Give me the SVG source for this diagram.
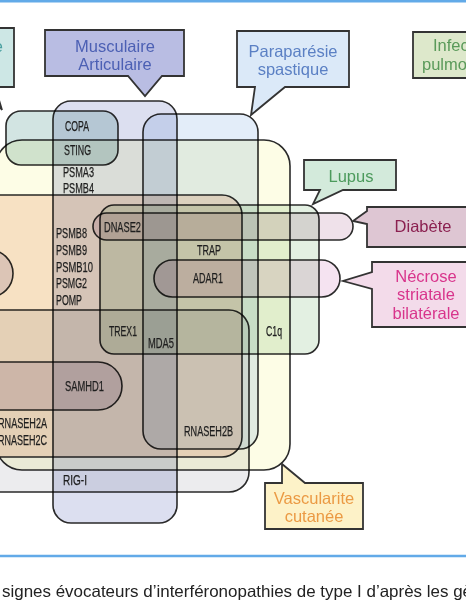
<svg xmlns="http://www.w3.org/2000/svg" width="466" height="600" viewBox="0 0 466 600">
<defs>
<style>
.set{stroke:#2a2a2a;stroke-width:1.6;mix-blend-mode:multiply}
.co{stroke:#333;stroke-width:1.8;stroke-linejoin:miter}
.ct{font-family:"Liberation Sans",Arial,sans-serif;font-size:16.5px;text-anchor:middle}
.g{font-family:"Liberation Sans",Arial,sans-serif;font-size:14px;fill:#1e1e1e;stroke:#1e1e1e;stroke-width:0.25}
</style>
</defs>
<rect x="0" y="0" width="466" height="600" fill="#ffffff"/>
<line x1="0" y1="1.3" x2="466" y2="1.3" stroke="#62aae8" stroke-width="2.6"/>
<line x1="0" y1="556" x2="466" y2="556" stroke="#62aae8" stroke-width="2.4"/>

<g id="sets">
<rect id="set-vascularite" class="set" x="-4" y="140" width="294" height="330" rx="26" fill="#fdfde6"/>
<rect id="set-peach" class="set" x="-40" y="195" width="282" height="262" rx="20" fill="#f9e3d8"/>
<rect id="set-gris" class="set" x="-40" y="310" width="289" height="182" rx="20" fill="#ececee"/>
<rect id="set-musculaire" class="set" x="53" y="101" width="124" height="422" rx="18" fill="#dcdff0"/>
<rect id="set-paraparesie" class="set" x="143" y="114" width="115" height="335" rx="18" fill="#e3edf9"/>
<rect id="set-pulmonaire" class="set" x="6" y="111" width="112" height="54" rx="15" fill="#d2e4e2"/>
<rect id="set-lupus" class="set" x="100" y="205" width="219" height="149" rx="14" fill="#e3f0e2"/>
<rect id="set-diabete" class="set" x="93" y="213" width="260" height="27" rx="13.5" fill="#efe1ea"/>
<rect id="set-necrose" class="set" x="154" y="260" width="186" height="37" rx="18.5" fill="#f5e3f1"/>
<rect id="set-samhd1" class="set" x="-60" y="362" width="182" height="48" rx="24" fill="#e6e0ec"/>
<rect id="set-gauche" class="set" x="-60" y="250" width="73" height="47" rx="23.5" fill="#e4e0ee"/>
</g>

<g id="connectors"></g>

<g id="genes">
<text class="g" x="65" y="131" textLength="24" lengthAdjust="spacingAndGlyphs">COPA</text>
<text class="g" x="64" y="155" textLength="27" lengthAdjust="spacingAndGlyphs">STING</text>
<text class="g" x="63" y="177" textLength="31" lengthAdjust="spacingAndGlyphs">PSMA3</text>
<text class="g" x="63" y="193" textLength="31" lengthAdjust="spacingAndGlyphs">PSMB4</text>
<text class="g" x="56" y="238" textLength="31" lengthAdjust="spacingAndGlyphs">PSMB8</text>
<text class="g" x="56" y="255" textLength="31" lengthAdjust="spacingAndGlyphs">PSMB9</text>
<text class="g" x="56" y="272" textLength="37" lengthAdjust="spacingAndGlyphs">PSMB10</text>
<text class="g" x="56" y="288" textLength="31" lengthAdjust="spacingAndGlyphs">PSMG2</text>
<text class="g" x="56" y="305" textLength="26" lengthAdjust="spacingAndGlyphs">POMP</text>
<text class="g" x="104" y="232" textLength="37" lengthAdjust="spacingAndGlyphs">DNASE2</text>
<text class="g" x="197" y="255" textLength="24" lengthAdjust="spacingAndGlyphs">TRAP</text>
<text class="g" x="193" y="283" textLength="30" lengthAdjust="spacingAndGlyphs">ADAR1</text>
<text class="g" x="109" y="336" textLength="28" lengthAdjust="spacingAndGlyphs">TREX1</text>
<text class="g" x="148" y="348" textLength="26" lengthAdjust="spacingAndGlyphs">MDA5</text>
<text class="g" x="266" y="336" textLength="16" lengthAdjust="spacingAndGlyphs">C1q</text>
<text class="g" x="65" y="391" textLength="39" lengthAdjust="spacingAndGlyphs">SAMHD1</text>
<text class="g" x="-2" y="428" textLength="49" lengthAdjust="spacingAndGlyphs">RNASEH2A</text>
<text class="g" x="-2" y="445" textLength="49" lengthAdjust="spacingAndGlyphs">RNASEH2C</text>
<text class="g" x="184" y="436" textLength="49" lengthAdjust="spacingAndGlyphs">RNASEH2B</text>
<text class="g" x="63" y="485" textLength="24" lengthAdjust="spacingAndGlyphs">RIG-I</text>
</g>

<g id="callout-gauche">
<path class="co" d="M-30,28 H14 V87 H-5 L2,110 L-15,87 H-30 Z" fill="#cde7e5"/>
<text class="ct" x="3" y="52" fill="#4aa0a0" style="text-anchor:end">e</text>
</g>
<g id="callout-musculaire">
<path class="co" d="M45,30 H184 V76 H162 L145,96 L128,76 H45 Z" fill="#b9bde3"/>
<text class="ct" x="115" y="52" fill="#4c60b4" font-size="17">Musculaire</text>
<text class="ct" x="115" y="70" fill="#4c60b4" font-size="17">Articulaire</text>
</g>
<g id="callout-paraparesie">
<path class="co" d="M237,31 H349 V87 H285 L251,115 L255,87 H237 Z" fill="#dbe9f8"/>
<text class="ct" x="293" y="57" fill="#5b80c4">Paraparésie</text>
<text class="ct" x="293" y="75" fill="#5b80c4">spastique</text>
</g>
<g id="callout-infection">
<path class="co" d="M413,32 H472 V78 H413 Z" fill="#dde8cb"/>
<text class="ct" x="433" y="51" fill="#5a9a5a" style="text-anchor:start">Infec</text>
<text class="ct" x="422" y="70" fill="#5a9a5a" style="text-anchor:start">pulmo</text>
</g>
<g id="callout-lupus">
<path class="co" d="M304,160 H396 V190 H343 L313,204 L320,190 H304 Z" fill="#d3eadb"/>
<text class="ct" x="351" y="182" fill="#4c9a5c">Lupus</text>
</g>
<g id="callout-diabete">
<path class="co" d="M367,207 H472 V247 H367 V224 L353,221 L367,211 Z" fill="#dec6d3"/>
<text class="ct" x="423" y="232" fill="#8b2050">Diabète</text>
</g>
<g id="callout-necrose">
<path class="co" d="M372,262 H472 V327 H372 V289 L343,281 L372,272 Z" fill="#f3dbea"/>
<text class="ct" x="426" y="282" fill="#d8358c">Nécrose</text>
<text class="ct" x="426" y="300" fill="#d8358c">striatale</text>
<text class="ct" x="426" y="319" fill="#d8358c">bilatérale</text>
</g>
<g id="callout-vascularite">
<path class="co" d="M265,483 H282 V464 L305,483 H363 V529 H265 Z" fill="#fdf2c8"/>
<text class="ct" x="314" y="504" fill="#eb9a44">Vascularite</text>
<text class="ct" x="314" y="522" fill="#eb9a44">cutanée</text>
</g>

<g id="caption">
<text x="2" y="597" font-family="Liberation Sans, Arial, sans-serif" font-size="16.5" fill="#222" textLength="470" lengthAdjust="spacingAndGlyphs">signes évocateurs d’interféronopathies de type I d’après les gè</text>
</g>
</svg>
